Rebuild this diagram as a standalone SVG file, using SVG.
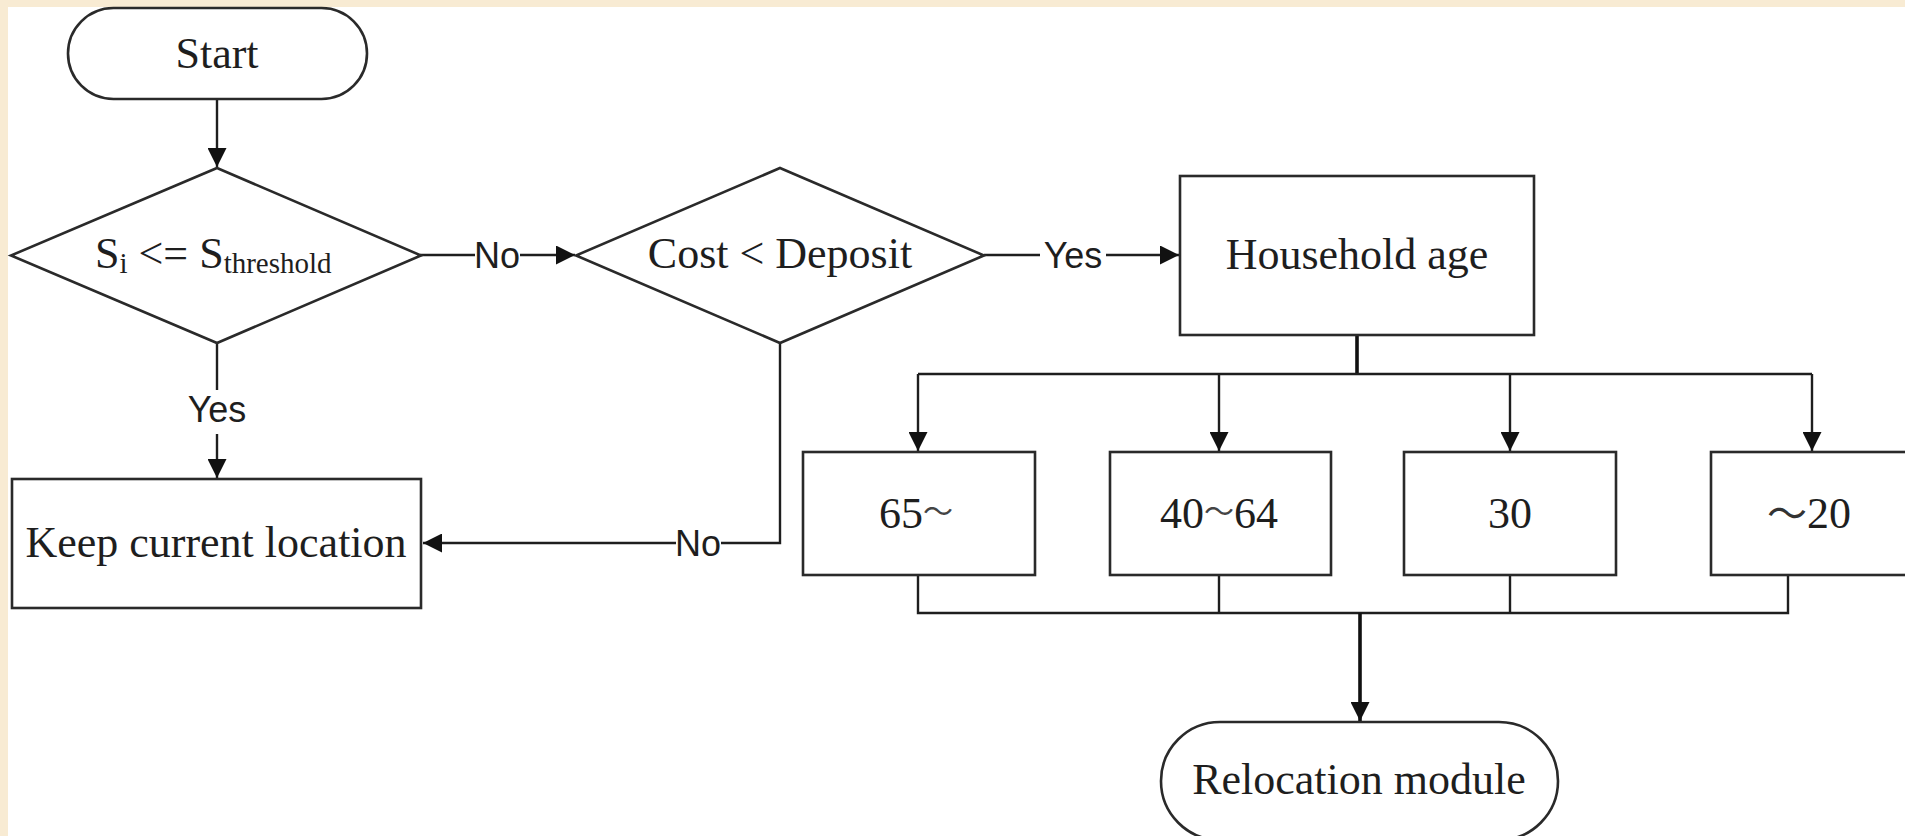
<svg xmlns="http://www.w3.org/2000/svg" width="1905" height="836" viewBox="0 0 1905 836">
<style>
.shape{fill:#ffffff;stroke:#2a2a2a;stroke-width:2.6}
.t{font-family:"Liberation Serif","Times New Roman",serif;font-size:44px;fill:#1e1e1e;text-anchor:middle}
.tc{font-family:"Liberation Serif","Noto Sans CJK TC",serif;font-size:44px;fill:#1e1e1e;text-anchor:middle}
.tl{font-family:"Noto Sans CJK TC",serif;font-size:30px;fill:#444}
.lbl{font-family:"Liberation Sans",Arial,sans-serif;font-size:36px;fill:#1e1e1e;text-anchor:middle}
.bg{fill:#ffffff}
.ln{fill:none;stroke:#1e1e1e;stroke-width:2.4}
.thick{fill:none;stroke:#111;stroke-width:3.6}
</style>
<defs>
<marker id="ah" markerWidth="19" markerHeight="19" refX="19" refY="9.5" orient="auto" markerUnits="userSpaceOnUse">
<path d="M0,0 L19,9.5 L0,19 Z" fill="#111"/>
</marker>
</defs>
<rect x="0" y="0" width="1905" height="836" fill="#F8EBD3"/>
<rect x="8" y="7" width="1897" height="829" fill="#ffffff"/>

<g id="connectors">
<path class="ln" d="M217,100 L217,167" marker-end="url(#ah)"/>
<path class="ln" d="M420,255 L575,255" marker-end="url(#ah)"/>
<path class="ln" d="M984,255 L1179,255" marker-end="url(#ah)"/>
<path class="ln" d="M217,343 L217,478" marker-end="url(#ah)"/>
<path class="ln" d="M780,343 L780,543 L423,543" marker-end="url(#ah)"/>
<path class="thick" d="M1357,335 L1357,374"/>
<path class="ln" d="M918,374 L1812,374"/>
<path class="ln" d="M918,374 L918,451" marker-end="url(#ah)"/>
<path class="ln" d="M1219,374 L1219,451" marker-end="url(#ah)"/>
<path class="ln" d="M1510,374 L1510,451" marker-end="url(#ah)"/>
<path class="ln" d="M1812,374 L1812,451" marker-end="url(#ah)"/>
<path class="ln" d="M918,575 L918,613 L1788,613 L1788,575"/>
<path class="ln" d="M1219,575 L1219,613"/>
<path class="ln" d="M1510,575 L1510,613"/>
<path class="thick" d="M1360,613 L1360,721" marker-end="url(#ah)"/>
<rect class="bg" x="475" y="240" width="45" height="30"/>
<text class="lbl" x="497" y="268">No</text>
<rect class="bg" x="1040" y="240" width="66" height="30"/>
<text class="lbl" x="1073" y="268">Yes</text>
<rect class="bg" x="186" y="390" width="62" height="44"/>
<text class="lbl" x="217" y="422">Yes</text>
<rect class="bg" x="676" y="528" width="45" height="30"/>
<text class="lbl" x="698" y="556">No</text>
</g>

<g id="start">
<rect class="shape" x="68" y="8" width="299" height="91" rx="45.5" ry="45.5"/>
<text class="t" x="217" y="68">Start</text>
</g>

<g id="decision1">
<polygon class="shape" points="217,168 421,255.5 217,343 11,255.5"/>
<text x="95" y="268" font-family="Liberation Serif, Times New Roman, serif" font-size="44" fill="#1e1e1e">S<tspan font-size="29" dy="5">i</tspan><tspan dy="-5"> &lt;= S</tspan><tspan font-size="29" dy="5">threshold</tspan></text>
</g>

<g id="decision2">
<polygon class="shape" points="780,168 984,255.5 780,343 576,255.5"/>
<text class="t" x="780" y="268">Cost &lt; Deposit</text>
</g>

<g id="household">
<rect class="shape" x="1180" y="176" width="354" height="159"/>
<text class="t" x="1357" y="269">Household age</text>
</g>

<g id="keep">
<rect class="shape" x="12" y="479" width="409" height="129"/>
<text class="t" x="216" y="557">Keep current location</text>
</g>

<g id="age65">
<rect class="shape" x="803" y="452" width="232" height="123"/>
<text class="tc" x="916" y="528">65<tspan class="tl" dy="-6">～</tspan></text>
</g>

<g id="age40">
<rect class="shape" x="1110" y="452" width="221" height="123"/>
<text class="tc" x="1219" y="528">40<tspan class="tl" dy="-6">～</tspan><tspan dy="6">64</tspan></text>
</g>

<g id="age30">
<rect class="shape" x="1404" y="452" width="212" height="123"/>
<text class="tc" x="1510" y="528">30</text>
</g>

<g id="age20">
<rect class="shape" x="1711" y="452" width="210" height="123"/>
<text class="tc" x="1809" y="528"><tspan style="font-family:'Noto Sans CJK TC',serif;font-size:40px;fill:#333">～</tspan>20</text>
</g>

<g id="relocation">
<rect class="shape" x="1161" y="722" width="397" height="118" rx="59" ry="59"/>
<text class="t" x="1359" y="794">Relocation module</text>
</g>
</svg>
